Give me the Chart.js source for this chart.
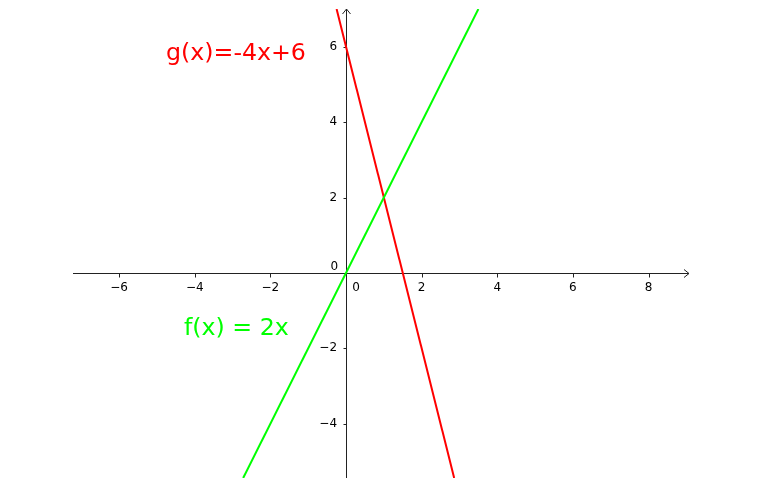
<!DOCTYPE html>
<html><head><meta charset="utf-8">
<script src="https://cdn.jsdelivr.net/npm/chart.js@4/dist/chart.umd.min.js"></script>
<style>html,body{margin:0;padding:0;background:#fff}#wrap{width:764px;height:489px}</style>
</head><body><div id="wrap"><canvas id="c" width="764" height="489"></canvas></div>
<script>
const fX = [-2.72, 3.5];
const fY = [-5.44, 7.0];
const gX = [-0.25, 2.86];
const gY = [7.0, -5.44];
const xTicks = [-6, -4, -2, 2, 4, 6, 8];
const yTicks = [-4, -2, 2, 4, 6];
const xRange = [-7.22, 9.07];
const yRange = [-5.44, 7.0];
const fLabel = "f(x) = 2x";
const gLabel = "g(x)=-4x+6";

const fmt = v => (v < 0 ? "\u2212" + Math.abs(v) : String(v));

const axesPlugin = {
  id: "axes",
  beforeDatasetsDraw(chart) {
    const ctx = chart.ctx, xs = chart.scales.x, ys = chart.scales.y;
    const x0 = xs.getPixelForValue(0), y0 = ys.getPixelForValue(0);
    const L = xs.left, R = xs.right, T = ys.top, B = ys.bottom;
    const ax = Math.round(x0) + 0.5, ay = Math.round(y0) + 0.5;
    ctx.save();
    ctx.strokeStyle = "#222"; ctx.lineWidth = 1;
    ctx.beginPath();
    ctx.moveTo(L, ay); ctx.lineTo(R, ay);
    ctx.moveTo(ax, B); ctx.lineTo(ax, T);
    ctx.moveTo(R - 5, ay - 4); ctx.lineTo(R, ay); ctx.lineTo(R - 5, ay + 4);
    ctx.moveTo(ax - 4, T + 5); ctx.lineTo(ax, T); ctx.lineTo(ax + 4, T + 5);
    xTicks.forEach(v => { const p = Math.round(xs.getPixelForValue(v)) + 0.5; ctx.moveTo(p, ay); ctx.lineTo(p, ay + 4); });
    yTicks.forEach(v => { const p = Math.round(ys.getPixelForValue(v)) + 0.5; ctx.moveTo(ax - 3, p); ctx.lineTo(ax, p); });
    ctx.stroke();
    ctx.fillStyle = "#000";
    ctx.font = "12px 'DejaVu Sans'";
    ctx.textAlign = "center"; ctx.textBaseline = "middle";
    xTicks.forEach(v => ctx.fillText(fmt(v), xs.getPixelForValue(v), y0 + 15));
    ctx.fillText("0", x0 + 10, y0 + 15);
    ctx.textAlign = "right";
    yTicks.forEach(v => ctx.fillText(fmt(v), x0 - 9, ys.getPixelForValue(v)));
    ctx.fillText("0", x0 - 8, y0 - 6);
    ctx.font = "23.7px 'DejaVu Sans'";
    ctx.textAlign = "left";
    ctx.fillStyle = "#ff0000";
    ctx.fillText(gLabel, 166, 54);
    ctx.fillStyle = "#00ff00";
    ctx.fillText(fLabel, 184, 329);
    ctx.restore();
  }
};

new Chart(document.getElementById("c"), {
  type: "scatter",
  data: {
    datasets: [
      { data: fX.map((x, i) => ({ x, y: fY[i] })), showLine: true, borderColor: "#00ff00", borderWidth: 2, pointRadius: 0, fill: false },
      { data: gX.map((x, i) => ({ x, y: gY[i] })), showLine: true, borderColor: "#ff0000", borderWidth: 2, pointRadius: 0, fill: false }
    ]
  },
  options: {
    responsive: false, animation: false,
    layout: { padding: { left: 73, right: 75, top: 9, bottom: 11 } },
    plugins: { legend: { display: false }, tooltip: { enabled: false } },
    scales: {
      x: { type: "linear", min: xRange[0], max: xRange[1], display: false },
      y: { type: "linear", min: yRange[0], max: yRange[1], display: false }
    }
  },
  plugins: [axesPlugin]
});
</script></body></html>
